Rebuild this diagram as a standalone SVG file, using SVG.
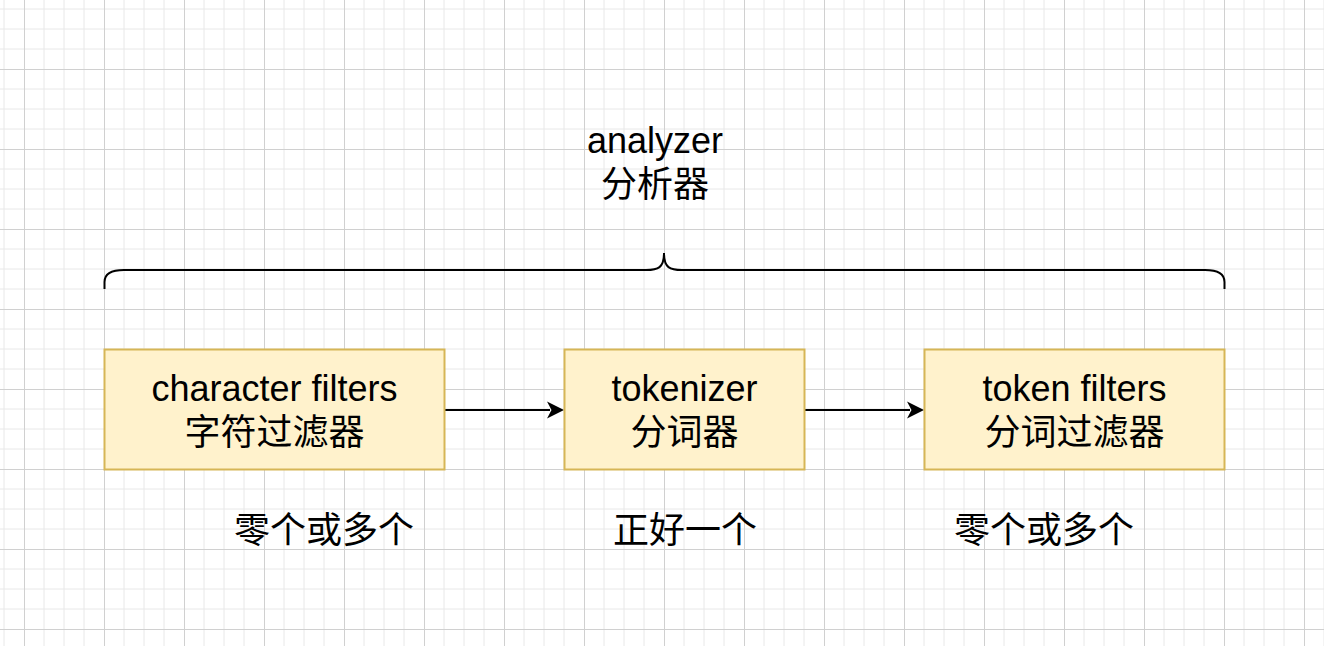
<svg xmlns="http://www.w3.org/2000/svg" width="1324" height="646" viewBox="0 0 1324 646">
  <style>
    .box { fill: #fff2cc; stroke: #d6b656; stroke-width: 2; }
    .t { font-family: "Liberation Sans", "Noto Sans CJK SC", sans-serif; font-size: 36px; fill: #000; text-anchor: middle; }
    .edge { stroke: #000; stroke-width: 2; fill: none; }
    .head { fill: #000; stroke: none; }
  </style>
  <defs>
    <pattern id="grid" width="80" height="80" patternUnits="userSpaceOnUse" x="24" y="69">
      <path d="M20,0V80M40,0V80M60,0V80M0,20H80M0,40H80M0,60H80" stroke="#e8e8e8" stroke-width="1" fill="none"/>
      <path d="M0.5,0V80M0,0.5H80" stroke="#d0d0d0" stroke-width="1" fill="none"/>
    </pattern>
  </defs>
  <rect width="1324" height="646" fill="#ffffff"/>
  <rect width="1324" height="646" fill="url(#grid)"/>

  <g id="analyzer-label">
    <text class="t" x="655" y="153">analyzer</text>
    <text class="t" x="655" y="197">分析器</text>
  </g>

  <g id="brace">
    <path class="edge" d="M104.5,289 L104.5,282 Q104.5,270 124,270 L646,270 C658,270 664,268 664,253 C664,268 670,270 682,270 L1205,270 Q1224.5,270 1224.5,282 L1224.5,289"/>
  </g>

  <g id="connectors">
    <path class="edge" d="M444,410 L550,410"/>
    <path class="head" d="M564,410 L547,401.5 L551.5,410 L547,418.5 Z"/>
    <path class="edge" d="M804,410 L910,410"/>
    <path class="head" d="M924,410 L907,401.5 L911.5,410 L907,418.5 Z"/>
  </g>

  <g id="node-char-filters">
    <rect class="box" x="104.5" y="349.5" width="340" height="120"/>
    <text class="t" x="274.5" y="401">character filters</text>
    <text class="t" x="274.5" y="445">字符过滤器</text>
  </g>

  <g id="node-tokenizer">
    <rect class="box" x="564.5" y="349.5" width="240" height="120"/>
    <text class="t" x="684.5" y="401">tokenizer</text>
    <text class="t" x="684.5" y="445">分词器</text>
  </g>

  <g id="node-token-filters">
    <rect class="box" x="924.5" y="349.5" width="300" height="120"/>
    <text class="t" x="1074.5" y="401">token filters</text>
    <text class="t" x="1074.5" y="445">分词过滤器</text>
  </g>

  <g id="label-zero-or-more-1">
    <text class="t" x="324" y="543">零个或多个</text>
  </g>
  <g id="label-exactly-one">
    <text class="t" x="685" y="543">正好一个</text>
  </g>
  <g id="label-zero-or-more-2">
    <text class="t" x="1044" y="543">零个或多个</text>
  </g>
</svg>
